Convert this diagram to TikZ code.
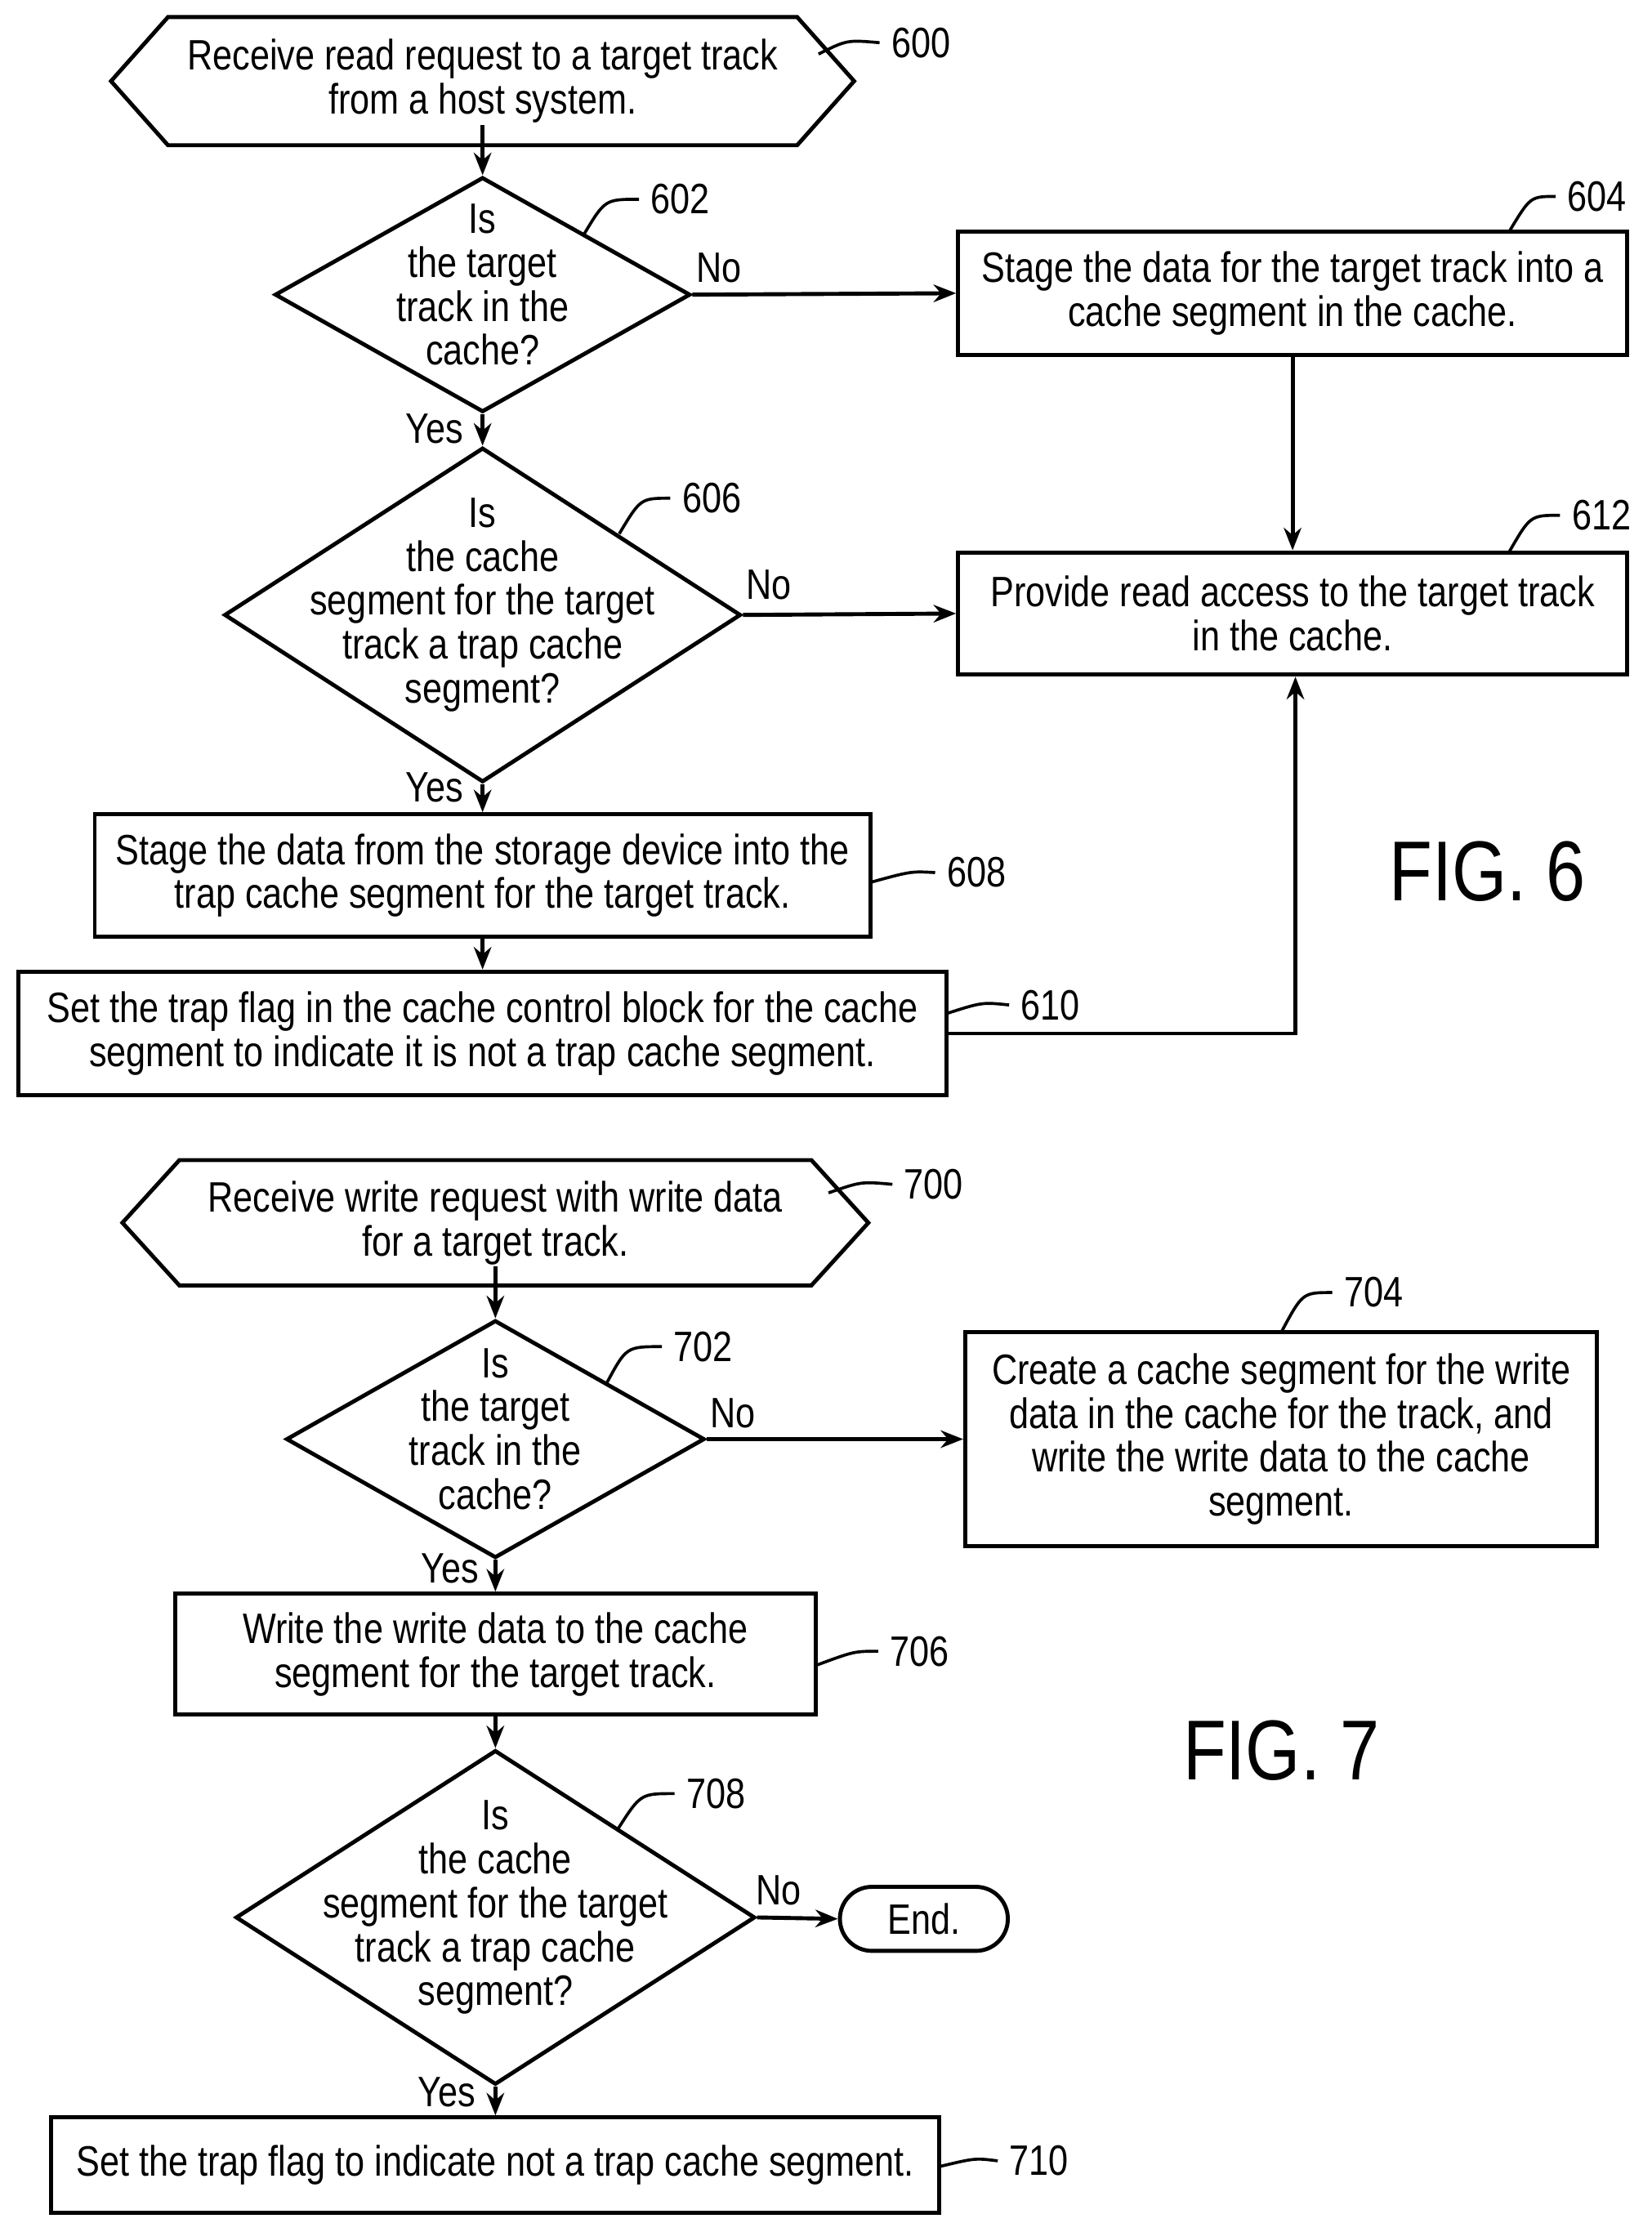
\documentclass[tikz,border=0pt]{standalone}
\usepackage{fontspec}
\setmainfont{Liberation Sans}[FakeStretch=0.83]
\usetikzlibrary{shapes.geometric,arrows.meta}
\begin{document}
\begin{tikzpicture}[x=0.02cm,y=-0.02cm,line width=1.6pt,
    txt/.style={font=\fontsize{17}{17.6}\selectfont,align=center,inner sep=0pt},
    box/.style={draw,txt},
    dia/.style={draw,diamond,inner sep=0pt},
    num/.style={font=\fontsize{17}{17.6}\selectfont,inner sep=4pt},
    yn/.style={font=\fontsize{17}{17.6}\selectfont,inner sep=0pt},
    arr/.style={-{Stealth[length=9pt,width=7pt]}},
    lead/.style={line width=1.2pt}]
    \useasboundingbox (0,0) rectangle (1160,1568);

    % FIG. 6
    \node[txt] (n600) at (339,57) {Receive read request to a target track\\from a host system.};
    \draw (78,57) -- (118,12) -- (560,12) -- (600,57) -- (560,102) -- (118,102) -- cycle;
    \node[dia,minimum width=5.84cm,minimum height=3.3cm] (n602) at (339,207) {};
    \node[txt] at ([yshift=4pt]n602) {Is\\the target\\track in the\\cache?};
    \node[box,minimum width=9.4cm,minimum height=1.74cm] (n604) at (908,206) {Stage the data for the target track into a\\cache segment in the cache.};
    \node[dia,minimum width=7.26cm,minimum height=4.7cm] (n606) at (339,432) {};
    \node[txt] at ([yshift=4pt]n606) {Is\\the cache\\segment for the target\\track a trap cache\\segment?};
    \node[box,minimum width=9.4cm,minimum height=1.72cm] (n612) at (908,431) {Provide read access to the target track\\in the cache.};
    \node[box,minimum width=10.9cm,minimum height=1.72cm] (n608) at (339,615) {Stage the data from the storage device into the\\trap cache segment for the target track.};
    \node[box,minimum width=13.04cm,minimum height=1.74cm] (n610) at (339,726) {Set the trap flag in the cache control block for the cache\\segment to indicate it is not a trap cache segment.};
    \node[font=\fontsize{34}{36}\selectfont] (fig6) at (1045,612) {FIG. 6};
    \coordinate (c610) at (910,726);

    \draw[arr] (n600.south) -- (n602.north);
    \draw[arr] (n602.east) -- (n604.west);
    \draw[arr] (n602.south) -- (n606.north);
    \draw[arr] (n604.south) -- (n612.north);
    \draw[arr] (n606.east) -- (n612.west);
    \draw[arr] (n606.south) -- (n608.north);
    \draw[arr] (n608.south) -- (n610.north);
    \draw[arr] (n610.east) -- (c610) -- (c610 |- n612.south);
    \node[yn] at (505,188) {No};
    \node[yn] at (305,301) {Yes};
    \node[yn] at (540,411) {No};
    \node[yn] at (305,553) {Yes};

    \node[num] (l600) at (647,30) {600};
    \draw[lead] (575,38) .. controls (595,28) .. (l600.west);
    \node[num] (l602) at (478,140) {602};
    \draw[lead] (410,165) .. controls (425,140) .. (l602.west);
    \node[num] (l604) at (1122,138) {604};
    \draw[lead] (1060,163) .. controls (1075,138) .. (l604.west);
    \node[num] (l606) at (500,350) {606};
    \draw[lead] (435,375) .. controls (450,350) .. (l606.west);
    \node[num] (l612) at (1125,362) {612};
    \draw[lead] (1060,388) .. controls (1075,362) .. (l612.west);
    \node[num] (l608) at (686,613) {608};
    \draw[lead] (611,620) .. controls (640,612) .. (l608.west);
    \node[num] (l610) at (738,706) {610};
    \draw[lead] (665,712) .. controls (690,704) .. (l610.west);

    % FIG. 7
    \node[txt] (n700) at (348,859) {Receive write request with write data\\for a target track.};
    \draw (86,859) -- (126,815) -- (570,815) -- (610,859) -- (570,903) -- (126,903) -- cycle;
    \node[dia,minimum width=5.88cm,minimum height=3.34cm] (n702) at (348,1011) {};
    \node[txt] at ([yshift=4pt]n702) {Is\\the target\\track in the\\cache?};
    \node[box,minimum width=8.88cm,minimum height=3cm] (n704) at (900,1011) {Create a cache segment for the write\\data in the cache for the track, and\\write the write data to the cache\\segment.};
    \node[box,minimum width=9cm,minimum height=1.7cm] (n706) at (348,1162) {Write the write data to the cache\\segment for the target track.};
    \node[dia,minimum width=7.3cm,minimum height=4.7cm] (n708) at (348,1347) {};
    \node[txt] at ([yshift=4pt]n708) {Is\\the cache\\segment for the target\\track a trap cache\\segment?};
    \node[draw,txt,rounded corners=0.45cm,minimum width=2.36cm,minimum height=0.9cm] (end) at (649,1348) {End.};
    \node[box,minimum width=12.48cm,minimum height=1.34cm] (n710) at (348,1521) {Set the trap flag to indicate not a trap cache segment.};
    \node[font=\fontsize{34}{36}\selectfont] (fig7) at (900,1230) {FIG. 7};

    \draw[arr] (n700.south) -- (n702.north);
    \draw[arr] (n702.east) -- (n704.west);
    \draw[arr] (n702.south) -- (n706.north);
    \draw[arr] (n706.south) -- (n708.north);
    \draw[arr] (n708.east) -- (end.west);
    \draw[arr] (n708.south) -- (n710.north);
    \node[yn] at (515,993) {No};
    \node[yn] at (316,1102) {Yes};
    \node[yn] at (547,1328) {No};
    \node[yn] at (314,1470) {Yes};

    \node[num] (l700) at (656,832) {700};
    \draw[lead] (582,838) .. controls (605,830) .. (l700.west);
    \node[num] (l702) at (494,946) {702};
    \draw[lead] (426,972) .. controls (440,946) .. (l702.west);
    \node[num] (l704) at (965,908) {704};
    \draw[lead] (900,936) .. controls (915,908) .. (l704.west);
    \node[num] (l706) at (646,1160) {706};
    \draw[lead] (573,1170) .. controls (600,1160) .. (l706.west);
    \node[num] (l708) at (503,1260) {708};
    \draw[lead] (434,1285) .. controls (450,1260) .. (l708.west);
    \node[num] (l710) at (730,1518) {710};
    \draw[lead] (660,1522) .. controls (685,1516) .. (l710.west);
\end{tikzpicture}
\end{document}
